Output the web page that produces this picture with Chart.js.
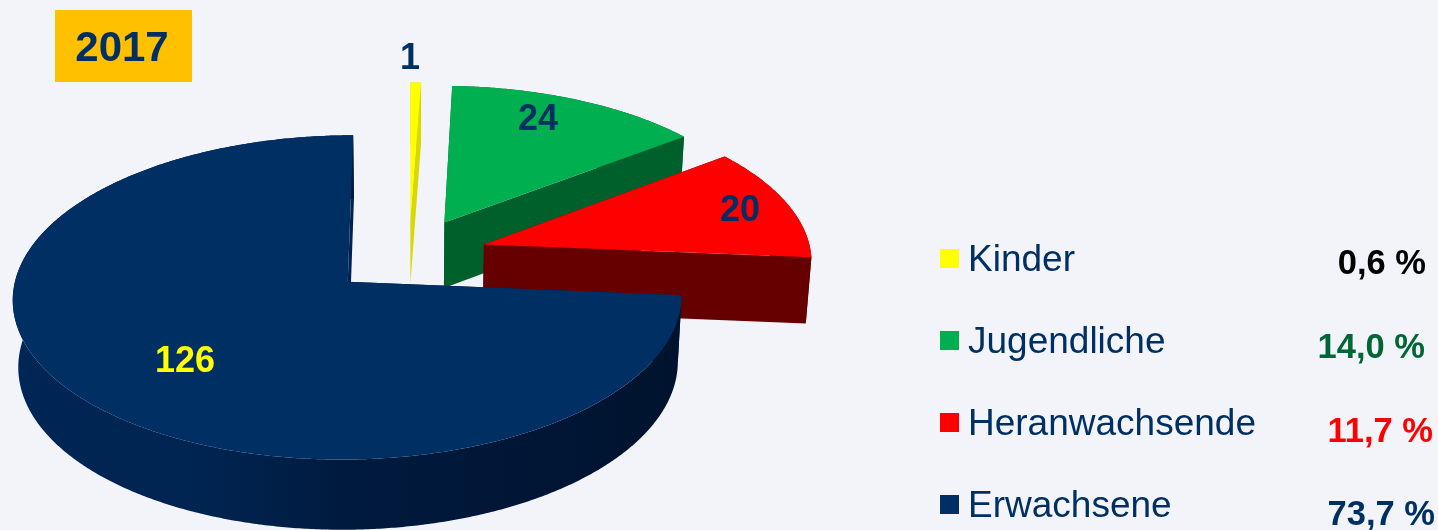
<!DOCTYPE html>
<html><head><meta charset="utf-8">
<style>html,body{margin:0;padding:0;background:#f2f4f9;overflow:hidden}canvas{display:block}</style>
<script src="https://cdn.jsdelivr.net/npm/chart.js@4/dist/chart.umd.min.js"></script>
</head><body><canvas id="c" width="1438" height="530"></canvas>
<script>
const yearLabel = "2017";
const categories = ["Kinder","Jugendliche","Heranwachsende","Erwachsene"];
const values = [1,24,20,126];
const percents = ["0,6 %","14,0 %","11,7 %","73,7 %"];
const topColors = ["#ffff00","#00b050","#ff0000","#002f63"];
const sideColors = ["#d9d900","#00602c","#660000","#00224e"];
const valueColors = ["#002f63","#002f63","#002f63","#ffff00"];
const percentColors = ["#000000","#006633","#ff0000","#002f63"];

// Layout and 3D projection settings
const EXPLODE = [0.24,0.24,0.24,0.25], CX = 409, CY = 255, AX = 327.5, BY = 155.5, PERSP = 0.095;
const valuePos = [[410,59],[538,120],[740,211],[185,362]];
const swatchY = [249,331,413,495];
const legendBase = [271,353,435,517];
const pctPos = [[1426,274],[1425,358],[1433,442],[1435,525]];

function project(u,v){ const w = 1 - PERSP*v; return [CX + AX*u/w, CY + BY*v/w]; }
function lower(p){ return [CX + (p[0]-CX)*0.986, p[1] + 66 + 0.02*(p[1]-250)]; }
function poly(ctx,pts,fill){ ctx.beginPath(); pts.forEach((p,i)=> i?ctx.lineTo(p[0],p[1]):ctx.moveTo(p[0],p[1])); ctx.closePath(); ctx.fillStyle=fill; ctx.fill(); }

const pie3d = {
  id:'pie3d',
  beforeDatasetsDraw(chart){
    const ctx = chart.ctx, arcs = chart.getDatasetMeta(0).data;
    arcs.forEach((el,i)=>{
      const s = el.startAngle, e = el.endAngle, mid = (s+e)/2;
      const ou = EXPLODE[i]*Math.cos(mid), ov = EXPLODE[i]*Math.sin(mid);
      const n = Math.max(2,Math.ceil((e-s)/0.008));
      const rim = [];
      for(let k=0;k<=n;k++){ const a = s+(e-s)*k/n; rim.push(project(ou+Math.cos(a),ov+Math.sin(a))); }
      const apex = project(ou,ov);
      const lowRim = rim.map(lower), lowApex = lower(apex);
      poly(ctx,[apex,rim[0],lowRim[0],lowApex],sideColors[i]);
      poly(ctx,[apex,rim[n],lowRim[n],lowApex],sideColors[i]);
      let wall = sideColors[i];
      if(i===3){
        wall = ctx.createLinearGradient(12,0,680,0);
        wall.addColorStop(0,'#002656'); wall.addColorStop(0.3,'#002450');
        wall.addColorStop(0.5,'#001a3e'); wall.addColorStop(1,'#00132e');
      }
      poly(ctx,rim.concat(lowRim.slice().reverse()),wall);
      poly(ctx,[apex].concat(rim),topColors[i]);
    });
    // value labels
    ctx.textAlign='center'; ctx.textBaseline='middle';
    ctx.font='bold 36px "Liberation Sans"';
    values.forEach((v,i)=>{ ctx.fillStyle=valueColors[i]; ctx.fillText(String(v),valuePos[i][0],valuePos[i][1]); });
    // year box
    ctx.fillStyle='#ffc000'; ctx.fillRect(55,10,137,72);
    ctx.fillStyle='#002f63'; ctx.font='bold 42px "Liberation Sans"';
    ctx.fillText(yearLabel,122,49);
    // legend
    ctx.textBaseline='alphabetic';
    categories.forEach((c,i)=>{
      ctx.fillStyle=topColors[i]; ctx.fillRect(940,swatchY[i],19,19);
      ctx.fillStyle='#002f63'; ctx.textAlign='left';
      ctx.font='37px "Liberation Sans"'; ctx.fillText(c,968,legendBase[i]);
      ctx.fillStyle=percentColors[i]; ctx.textAlign='right';
      ctx.font='bold 34.5px "Liberation Sans"'; ctx.fillText(percents[i],pctPos[i][0],pctPos[i][1]);
    });
    return false;
  }
};
new Chart(document.getElementById('c'),{
  type:'pie',
  data:{labels:categories,datasets:[{data:values,backgroundColor:topColors,borderWidth:0}]},
  options:{responsive:false,animation:false,events:[],
    plugins:{legend:{display:false},tooltip:{enabled:false}}},
  plugins:[pie3d]
});
</script></body></html>
